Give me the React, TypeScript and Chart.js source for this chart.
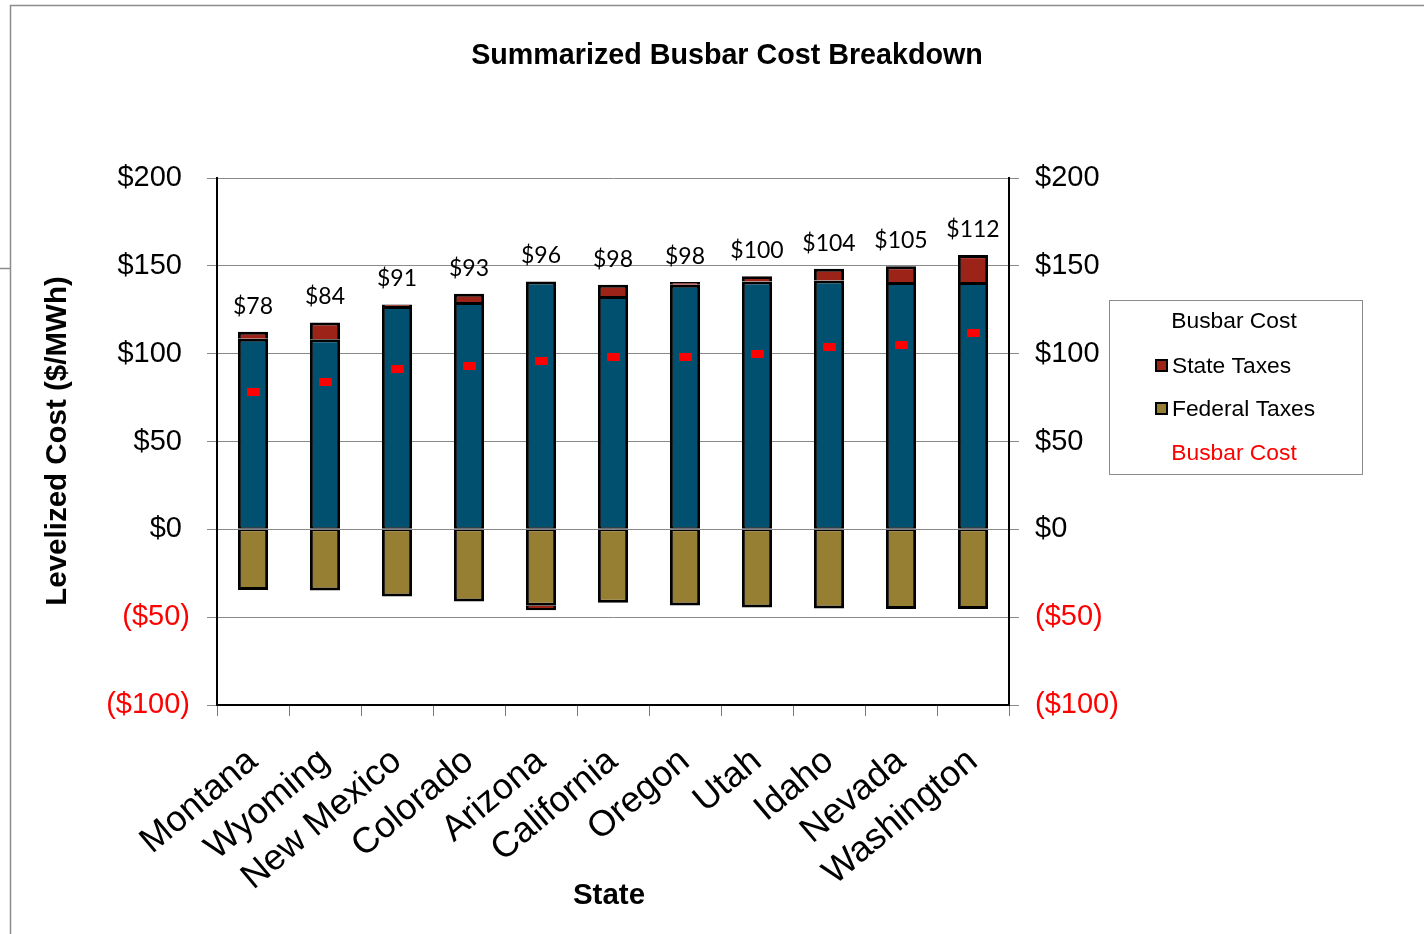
import React, { useEffect, useRef } from "react";
import { Chart, registerables } from "chart.js";

Chart.register(...registerables);

const categories = ["Montana", "Wyoming", "New Mexico", "Colorado", "Arizona", "California", "Oregon", "Utah", "Idaho", "Nevada", "Washington"];
const baseCost = [108.5, 108.2, 127.2, 129.4, 141.1, 132.8, 139.2, 141.1, 141.7, 140.8, 140.8];
const stateTaxes = [4.0, 9.6, 0.8, 4.7, -2.5, 6.5, 1.6, 2.9, 6.7, 8.9, 15.3];
const federalTaxes = [-34.6, -34.8, -38.2, -41.1, -43.5, -41.8, -43.4, -44.5, -45.1, -45.3, -45.3];
const busbarCost = [78, 84, 91, 93, 96, 98, 98, 100, 104, 105, 112];
const busbarLabels = ["$78", "$84", "$91", "$93", "$96", "$98", "$98", "$100", "$104", "$105", "$112"];
const yMin = -100;
const yMax = 200;
const yStep = 50;

const BLUE = "#02506F";
const RED = "#9B2317";
const OLIVE = "#967F33";
const SANS = "'Liberation Sans', Arial, sans-serif";

const W = 1424;
const H = 934;
const PLOT_LEFT = 217;
const PLOT_RIGHT = 1009;
const PLOT_TOP = 178;
const PLOT_BOTTOM = 705;

function fmtLeft(v: number): string {
  return v < 0 ? `($${-v})` : `$${v} `;
}
function fmtRight(v: number): string {
  return v < 0 ? `($${-v})` : `$${v}`;
}

function makeMarker(): HTMLCanvasElement {
  const c = document.createElement("canvas");
  c.width = 13;
  c.height = 8;
  const g = c.getContext("2d")!;
  g.fillStyle = "#FF0000";
  g.fillRect(0, 0, 13, 8);
  return c;
}

const decorPlugin = {
  id: "decor",
  beforeDraw(chart: any) {
    const ctx = chart.ctx;
    ctx.save();
    ctx.fillStyle = "#ffffff";
    ctx.fillRect(0, 0, W, H);
    ctx.strokeStyle = "#8c8c8c";
    ctx.lineWidth = 1.5;
    ctx.beginPath();
    ctx.moveTo(10.5, H);
    ctx.lineTo(10.5, 5.5);
    ctx.lineTo(W, 5.5);
    ctx.moveTo(0, 268.5);
    ctx.lineTo(10, 268.5);
    ctx.stroke();
    ctx.restore();
  },
  afterDraw(chart: any) {
    const ctx = chart.ctx;
    const xs = chart.scales.x;
    const ys = chart.scales.y;
    ctx.save();
    // title
    ctx.fillStyle = "#000";
    ctx.textAlign = "center";
    ctx.textBaseline = "middle";
    ctx.font = `bold 28.7px ${SANS}`;
    ctx.fillText("Summarized Busbar Cost Breakdown", 727, 56);
    // x title
    ctx.font = `bold 29.5px ${SANS}`;
    ctx.fillText("State", 609, 896);
    // y title
    ctx.save();
    ctx.translate(58, 441);
    ctx.rotate(-Math.PI / 2);
    ctx.fillText("Levelized Cost ($/MWh)", 0, 0);
    ctx.restore();

    // data labels
    ctx.font = `23px Lato, 'Open Sans', sans-serif`;
    ctx.textBaseline = "alphabetic";
    for (let i = 0; i < categories.length; i++) {
      const top = baseCost[i] + Math.max(stateTaxes[i], 0);
      const x = xs.getPixelForValue(i);
      const y = ys.getPixelForValue(top) - 18;
      ctx.fillText(busbarLabels[i], x, y);
    }

    // legend
    ctx.strokeStyle = "#8c8c8c";
    ctx.lineWidth = 1;
    ctx.strokeRect(1109.5, 300.5, 253, 174);
    ctx.font = `22.8px ${SANS}`;
    ctx.textBaseline = "middle";
    ctx.textAlign = "center";
    ctx.fillStyle = "#000";
    ctx.fillText("Busbar Cost", 1234, 322);
    ctx.fillStyle = "#FF0000";
    ctx.fillText("Busbar Cost", 1234, 454);
    const items: [string, string, number][] = [
      ["State Taxes", RED, 366],
      ["Federal Taxes", OLIVE, 409],
    ];
    ctx.textAlign = "left";
    for (const [label, color, cy] of items) {
      ctx.fillStyle = "#000";
      ctx.fillRect(1155, cy - 7, 13, 13);
      ctx.fillStyle = color;
      ctx.fillRect(1157, cy - 5, 9, 9);
      ctx.fillStyle = "#000";
      ctx.fillText(label, 1172, cy + 1);
    }
    ctx.restore();
  },
};

function barBorder(ctx: any) {
  const v = ctx.raw as number;
  return v >= 0 ? { top: 3, left: 3, right: 3, bottom: 1.5 } : { top: 1.5, left: 3, right: 3, bottom: 3 };
}

function stateBorder(ctx: any) {
  const v = ctx.raw as number;
  return v >= 0 ? { top: 3, left: 3, right: 3, bottom: 0 } : { top: 0, left: 3, right: 3, bottom: 3 };
}

export default function App() {
  const ref = useRef<HTMLCanvasElement | null>(null);
  useEffect(() => {
    if (!ref.current) return;
    Chart.defaults.font.family = SANS;
    const marker = makeMarker();
    const tickColor = (c: any) => (c.tick && c.tick.value < 0 ? "#FF0000" : "#000000");
    const chart = new Chart(ref.current, {
      type: "bar",
      data: {
        labels: categories,
        datasets: [
          {
            type: "line",
            label: "Busbar Cost",
            data: busbarCost,
            showLine: false,
            pointStyle: marker as any,
            pointRadius: 6,
            backgroundColor: "#FF0000",
            borderColor: "#FF0000",
            order: 0,
          } as any,
          {
            label: "Busbar Cost",
            data: baseCost,
            backgroundColor: BLUE,
            borderColor: "#000",
            borderWidth: barBorder as any,
            borderSkipped: false,
            order: 1,
          },
          {
            label: "Federal Taxes",
            data: federalTaxes,
            backgroundColor: OLIVE,
            borderColor: "#000",
            borderWidth: barBorder as any,
            borderSkipped: false,
            order: 1,
          },
          {
            label: "State Taxes",
            data: stateTaxes,
            backgroundColor: RED,
            borderColor: "#000",
            borderWidth: stateBorder as any,
            borderSkipped: false,
            order: 1,
          },
        ],
      },
      options: {
        responsive: false,
        animation: false,
        datasets: { bar: { barPercentage: 0.42, categoryPercentage: 1.0 } },
        layout: { padding: { top: PLOT_TOP, left: 0, right: 0, bottom: 0 } },
        plugins: {
          legend: { display: false },
          title: { display: false },
          tooltip: { enabled: false },
        },
        scales: {
          x: {
            stacked: true,
            offset: true,
            grid: {
              display: true,
              offset: true,
              drawOnChartArea: false,
              drawTicks: true,
              tickLength: 11,
              color: "#7a7a7a",
            },
            border: { display: true, color: "#000", width: 2 },
            ticks: {
              color: "#000",
              font: { size: 36, family: SANS },
              maxRotation: 40,
              minRotation: 40,
              padding: 24,
              autoSkip: false,
            },
            afterFit: (s: any) => {
              s.height = H - PLOT_BOTTOM;
            },
          },
          y: {
            stacked: true,
            position: "left",
            min: yMin,
            max: yMax,
            grid: { color: "#8a8a8a", lineWidth: 1, tickLength: 10 },
            border: { display: true, color: "#000", width: 2 },
            ticks: {
              stepSize: yStep,
              color: tickColor as any,
              font: { size: 29, family: SANS },
              padding: 17,
              callback: (v: any) => fmtLeft(Number(v)),
            },
            afterFit: (s: any) => {
              s.width = PLOT_LEFT;
            },
          },
          y1: {
            position: "right",
            min: yMin,
            max: yMax,
            grid: { drawOnChartArea: false, color: "#8a8a8a", tickLength: 10 },
            border: { display: true, color: "#000", width: 2 },
            ticks: {
              stepSize: yStep,
              color: tickColor as any,
              font: { size: 29, family: SANS },
              padding: 16,
              callback: (v: any) => fmtRight(Number(v)),
            },
            afterFit: (s: any) => {
              s.width = W - PLOT_RIGHT;
            },
          },
        },
      },
      plugins: [decorPlugin],
    });
    return () => chart.destroy();
  }, []);
  return (
    <div style={{ position: "absolute", left: 0, top: 0, width: W, height: H }}>
      <canvas ref={ref} width={W} height={H} style={{ display: "block", width: W, height: H }} />
    </div>
  );
}
